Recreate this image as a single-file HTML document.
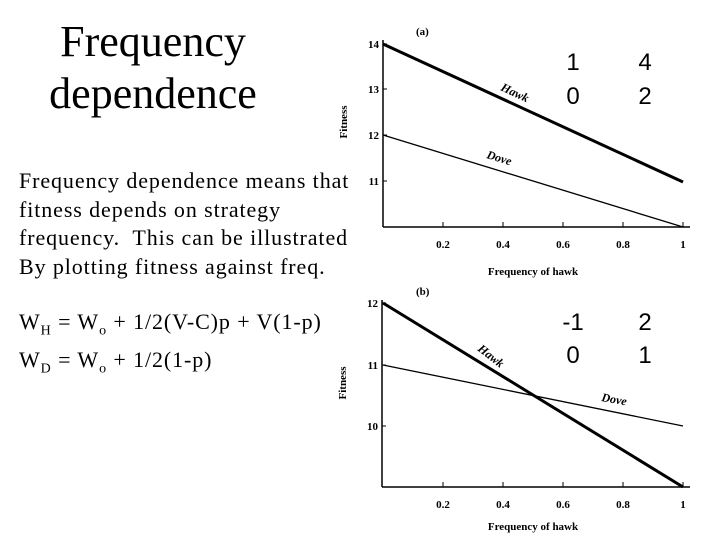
<!DOCTYPE html>
<html><head><style>
body{margin:0;width:719px;height:539px;background:#fff;overflow:hidden;position:relative;font-family:"Liberation Serif",serif}
.t{position:absolute;white-space:nowrap;color:#000}
</style></head><body>
<div class="t" style="left:0;width:306px;text-align:center;top:16px;font-size:44px;line-height:52px">Frequency<br>dependence</div>
<div class="t" style="left:19px;top:167px;font-size:22px;line-height:28.7px;letter-spacing:0.9px">Frequency dependence means that<br>fitness depends on strategy<br>frequency.&nbsp; This can be illustrated<br>By plotting fitness against freq.</div>
<div class="t" style="left:19px;top:307px;font-size:22px;line-height:29px;letter-spacing:0.9px">W<sub style="font-size:14px">H</sub> = W<sub style="font-size:14px">o</sub> + 1/2(V-C)p + V(1-p)<br>W<sub style="font-size:14px">D</sub> = W<sub style="font-size:14px">o</sub> + 1/2(1-p)</div>
<svg width="719" height="539" style="position:absolute;left:0;top:0" font-family="Liberation Serif" font-weight="bold">
<g font-size="11">
<text x="416" y="35">(a)</text>
<line x1="383" y1="40" x2="383" y2="227" stroke="#000" stroke-width="1.5"/>
<line x1="383" y1="227" x2="690" y2="227" stroke="#000" stroke-width="1.5"/>
<g text-anchor="end"><text x="379" y="48">14</text><text x="379" y="93">13</text><text x="379" y="139">12</text><text x="379" y="185">11</text></g>
<g stroke="#000"><line x1="383" y1="44" x2="387" y2="44"/><line x1="383" y1="89" x2="387" y2="89"/><line x1="383" y1="135" x2="387" y2="135"/><line x1="383" y1="181" x2="387" y2="181"/>
<line x1="443" y1="227" x2="443" y2="222"/><line x1="503" y1="227" x2="503" y2="222"/><line x1="563" y1="227" x2="563" y2="222"/><line x1="623" y1="227" x2="623" y2="222"/><line x1="683" y1="227" x2="683" y2="222"/></g>
<g text-anchor="middle"><text x="443" y="248">0.2</text><text x="503" y="248">0.4</text><text x="563" y="248">0.6</text><text x="623" y="248">0.8</text><text x="683" y="248">1</text>
<text x="533" y="275">Frequency of hawk</text></g>
<text transform="translate(347,122) rotate(-90)" text-anchor="middle">Fitness</text>
<line x1="383" y1="44" x2="683" y2="182" stroke="#000" stroke-width="3"/>
<line x1="383" y1="135" x2="683" y2="227" stroke="#000" stroke-width="1.3"/>
<text x="500" y="90" font-style="italic" font-size="12" transform="rotate(25 500 90)">Hawk</text>
<text x="486" y="158" font-style="italic" font-size="12" transform="rotate(17 486 158)">Dove</text>

<text x="416" y="295">(b)</text>
<line x1="382" y1="300" x2="382" y2="487" stroke="#000" stroke-width="1.5"/>
<line x1="382" y1="487" x2="690" y2="487" stroke="#000" stroke-width="1.5"/>
<g text-anchor="end"><text x="378" y="307">12</text><text x="378" y="369">11</text><text x="378" y="430">10</text></g>
<g stroke="#000"><line x1="382" y1="303" x2="386" y2="303"/><line x1="382" y1="365" x2="386" y2="365"/><line x1="382" y1="426" x2="386" y2="426"/>
<line x1="443" y1="487" x2="443" y2="482"/><line x1="503" y1="487" x2="503" y2="482"/><line x1="563" y1="487" x2="563" y2="482"/><line x1="623" y1="487" x2="623" y2="482"/><line x1="683" y1="487" x2="683" y2="482"/></g>
<g text-anchor="middle"><text x="443" y="508">0.2</text><text x="503" y="508">0.4</text><text x="563" y="508">0.6</text><text x="623" y="508">0.8</text><text x="683" y="508">1</text>
<text x="533" y="530">Frequency of hawk</text></g>
<text transform="translate(346,383) rotate(-90)" text-anchor="middle">Fitness</text>
<line x1="383" y1="303" x2="683" y2="487" stroke="#000" stroke-width="3"/>
<line x1="383" y1="365" x2="683" y2="426" stroke="#000" stroke-width="1.3"/>
<text x="477" y="350" font-style="italic" font-size="12" transform="rotate(38 477 350)">Hawk</text>
<text x="601" y="401" font-style="italic" font-size="12" transform="rotate(10 601 401)">Dove</text>
</g>
<g font-family="Liberation Sans" font-size="24" text-anchor="middle" font-weight="normal">
<text x="573" y="70">1</text><text x="645" y="70">4</text>
<text x="573" y="104">0</text><text x="645" y="104">2</text>
<text x="573" y="330">-1</text><text x="645" y="330">2</text>
<text x="573" y="363">0</text><text x="645" y="363">1</text>
</g>
</svg>
</body></html>
